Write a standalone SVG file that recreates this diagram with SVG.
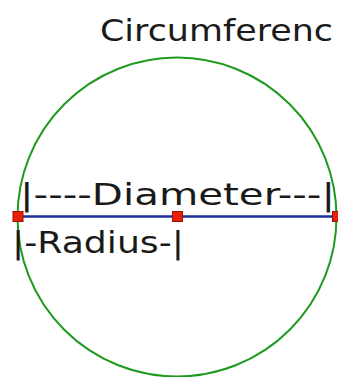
<svg xmlns="http://www.w3.org/2000/svg" width="338" height="377" viewBox="0 0 338 377">
<style>
text{font-family:"DejaVu Sans","Liberation Sans",sans-serif;font-size:30px;fill:#1a1a1a}
.dot{fill:#e8200a;stroke:#a01000;stroke-width:1}
</style>
<rect width="338" height="377" fill="#fff"/>
<g id="circle"><circle cx="177" cy="217" r="159.5" fill="none" stroke="#1f9a1f" stroke-width="2"/></g>
<g id="connectors"><line x1="18" y1="216.5" x2="337" y2="216.5" stroke="#2030a0" stroke-width="2.5"/></g>
<g id="points">
<rect class="dot" x="13" y="211.5" width="10" height="10"/>
<rect class="dot" x="172.5" y="211.5" width="10" height="10"/>
<rect class="dot" x="332.5" y="211.5" width="10" height="10"/>
</g>
<g id="labels">
<text x="100" y="41" textLength="233" lengthAdjust="spacingAndGlyphs">Circumferenc</text>
<text x="20" y="205" textLength="315" lengthAdjust="spacingAndGlyphs">|----Diameter---|</text>
<text x="12" y="253" textLength="172" lengthAdjust="spacingAndGlyphs">|-Radius-|</text>
</g>
</svg>
